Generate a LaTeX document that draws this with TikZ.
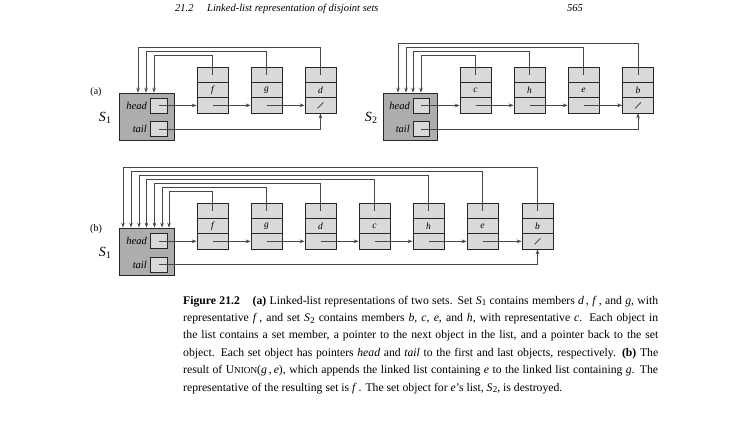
\documentclass[tikz,border=0pt]{standalone}
\usepackage{fontspec}
\setmainfont{Liberation Serif}
\usetikzlibrary{arrows.meta}
\newcommand{\listobj}[4]{%
  \node[cell] (#1a) at (#2,#3+7.667) {};
  \node[cell] (#1b) at (#2,#3+23) {#4};
  \node[cell] (#1c) at (#2,#3+38.333) {};
}
\newcommand{\SetName}[1]{\textit{S}\kern0.3pt\raisebox{-0.4ex}{\fontsize{10}{10}\selectfont #1}}
\newcommand{\CapS}[1]{\textit{S}\kern0.3pt\raisebox{-0.35ex}{\fontsize{9}{9}\selectfont #1}}
\begin{document}
\begin{tikzpicture}[x=1pt,y=-1pt,
  cell/.style={draw=black!85,fill=black!15,line width=0.7pt,minimum width=31pt,minimum height=15.33pt,inner sep=0pt,font=\fontsize{9.5}{9.5}\selectfont\itshape},
  setbox/.style={draw=black!85,fill=black!32,line width=0.8pt,minimum height=47pt,inner sep=0pt},
  ptrbox/.style={draw=black!85,fill=black!15,line width=0.7pt,minimum height=15pt,inner sep=0pt},
  ptr/.style={draw=black!72,line width=0.7pt,-{Stealth[length=5pt,width=3.6pt]}},
  lbl/.style={font=\fontsize{10.5}{10.5}\selectfont\itshape,anchor=east,inner sep=0pt},
  setlbl/.style={font=\fontsize{14}{14}\selectfont,inner sep=0pt},
  partlbl/.style={font=\fontsize{10}{10}\selectfont,inner sep=0pt},
  capline/.style={anchor=base west,inner sep=0pt,font=\fontsize{11.7}{13}\selectfont},
  slash/.style={draw=black!80,line width=0.6pt}
]
\useasboundingbox (0,0) rectangle (740,423);

% header
\node[anchor=base west,inner sep=0pt,font=\fontsize{10.5}{12}\selectfont\itshape] (hdr) at (175,11) {21.2\hspace{1.3em}Linked-list representation of disjoint sets};
\node[anchor=base east,inner sep=0pt,font=\fontsize{10.5}{12}\selectfont\itshape] (pg) at (583,11) {565};

% ---------------- (a) S1
\node[partlbl] (pa) at (96,92) {(a)};
\node[setbox,minimum width=55pt] (SA) at (146.5,116.5) {};
\node[ptrbox,minimum width=17pt] (HA) at (158.5,105.5) {};
\node[ptrbox,minimum width=17pt] (TA) at (158.5,129) {};
\node[lbl] (hlA) at (147,105.5) {head};
\node[lbl] (tlA) at (147,129) {tail};
\node[setlbl] (sA) at (105,118) {\SetName{1}};
\listobj{f}{212.5}{67}{f}
\listobj{g}{266.5}{67}{g}
\listobj{d}{320.5}{67}{d}
\draw[slash] (dc.center) +(-3,3) -- +(3,-3);
\coordinate (A1) at (154,55);
\coordinate (A2) at (146,51);
\coordinate (A3) at (138,47);
\draw[ptr] (fa.center) |- (A1) -- (A1 |- SA.north);
\draw[ptr] (ga.center) |- (A2) -- (A2 |- SA.north);
\draw[ptr] (da.center) |- (A3) -- (A3 |- SA.north);
\draw[ptr] (HA.center) -- (HA.center -| fc.west);
\draw[ptr] (fc.center) -- (gc.west);
\draw[ptr] (gc.center) -- (dc.west);
\draw[ptr] (TA.center) -| (dc.south);

% ---------------- (a) S2
\node[setbox,minimum width=54pt] (SB) at (410,116.5) {};
\node[ptrbox,minimum width=16pt] (HB) at (421,105.5) {};
\node[ptrbox,minimum width=16pt] (TB) at (421,129) {};
\node[lbl] (hlB) at (410,105.5) {head};
\node[lbl] (tlB) at (410,129) {tail};
\node[setlbl] (sB) at (371,118) {\SetName{2}};
\listobj{c}{475.5}{67}{c}
\listobj{h}{529.5}{67}{h}
\listobj{e}{583.5}{67}{e}
\listobj{b}{638}{67}{b}
\draw[slash] (bc.center) +(-3,3) -- +(3,-3);
\coordinate (B1) at (421,55);
\coordinate (B2) at (413,51);
\coordinate (B3) at (406,47);
\coordinate (B4) at (398,43);
\draw[ptr] (ca.center) |- (B1) -- (B1 |- SB.north);
\draw[ptr] (ha.center) |- (B2) -- (B2 |- SB.north);
\draw[ptr] (ea.center) |- (B3) -- (B3 |- SB.north);
\draw[ptr] (ba.center) |- (B4) -- (B4 |- SB.north);
\draw[ptr] (HB.center) -- (HB.center -| cc.west);
\draw[ptr] (cc.center) -- (hc.west);
\draw[ptr] (hc.center) -- (ec.west);
\draw[ptr] (ec.center) -- (bc.west);
\draw[ptr] (TB.center) -| (bc.south);

% ---------------- (b)
\node[partlbl] (pb) at (96,229) {(b)};
\node[setbox,minimum width=55pt] (SC) at (146.5,251.5) {};
\node[ptrbox,minimum width=17pt] (HC) at (158.5,241.3) {};
\node[ptrbox,minimum width=17pt] (TC) at (158.5,264.5) {};
\node[lbl] (hlC) at (147,241.3) {head};
\node[lbl] (tlC) at (147,264.5) {tail};
\node[setlbl] (sC) at (105,253) {\SetName{1}};
\listobj{F}{212.5}{203}{f}
\listobj{G}{266.5}{203}{g}
\listobj{D}{320.5}{203}{d}
\listobj{C}{374.5}{203}{c}
\listobj{H}{428.5}{203}{h}
\listobj{E}{482.5}{203}{e}
\listobj{B}{537.5}{203}{b}
\draw[slash] (Bc.center) +(-3,3) -- +(3,-3);
\coordinate (C1) at (169,191);
\coordinate (C2) at (162,187);
\coordinate (C3) at (154.5,183);
\coordinate (C4) at (146.5,179);
\coordinate (C5) at (139,175);
\coordinate (C6) at (131,171);
\coordinate (C7) at (123,167);
\draw[ptr] (Fa.center) |- (C1) -- (C1 |- SC.north);
\draw[ptr] (Ga.center) |- (C2) -- (C2 |- SC.north);
\draw[ptr] (Da.center) |- (C3) -- (C3 |- SC.north);
\draw[ptr] (Ca.center) |- (C4) -- (C4 |- SC.north);
\draw[ptr] (Ha.center) |- (C5) -- (C5 |- SC.north);
\draw[ptr] (Ea.center) |- (C6) -- (C6 |- SC.north);
\draw[ptr] (Ba.center) |- (C7) -- (C7 |- SC.north);
\draw[ptr] (HC.center) -- (HC.center -| Fc.west);
\draw[ptr] (Fc.center) -- (Gc.west);
\draw[ptr] (Gc.center) -- (Dc.west);
\draw[ptr] (Dc.center) -- (Cc.west);
\draw[ptr] (Cc.center) -- (Hc.west);
\draw[ptr] (Hc.center) -- (Ec.west);
\draw[ptr] (Ec.center) -- (Bc.west);
\draw[ptr] (TC.center) -| (Bc.south);

% ---------------- caption
\node[capline] (cap1) at (183,304) {\makebox[475pt][s]{\textbf{Figure 21.2}\hspace{1.1em}\textbf{(a)} Linked-list representations of two sets. Set \CapS{1} contains members \textit{d}\,, \textit{f}\,, and \textit{g}, with}};
\node[capline] (cap2) at (183,321.4) {\makebox[475pt][s]{representative \textit{f}\,, and set \CapS{2} contains members \textit{b}, \textit{c}, \textit{e}, and \textit{h}, with representative \textit{c}. Each object in}};
\node[capline] (cap3) at (183,338.8) {\makebox[475pt][s]{the list contains a set member, a pointer to the next object in the list, and a pointer back to the set}};
\node[capline] (cap4) at (183,356.2) {\makebox[475pt][s]{object. Each set object has pointers \textit{head} and \textit{tail} to the first and last objects, respectively. \textbf{(b)} The}};
\node[capline] (cap5) at (183,373.6) {\makebox[475pt][s]{result of U{\fontsize{9.2}{9.2}\selectfont NION}(\textit{g}\,,\,\textit{e}), which appends the linked list containing \textit{e} to the linked list containing \textit{g}. The}};
\node[capline] (cap6) at (183,391) {representative of the resulting set is \textit{f}\,. The set object for \textit{e}'s list, \CapS{2}, is destroyed.};
\end{tikzpicture}
\end{document}
